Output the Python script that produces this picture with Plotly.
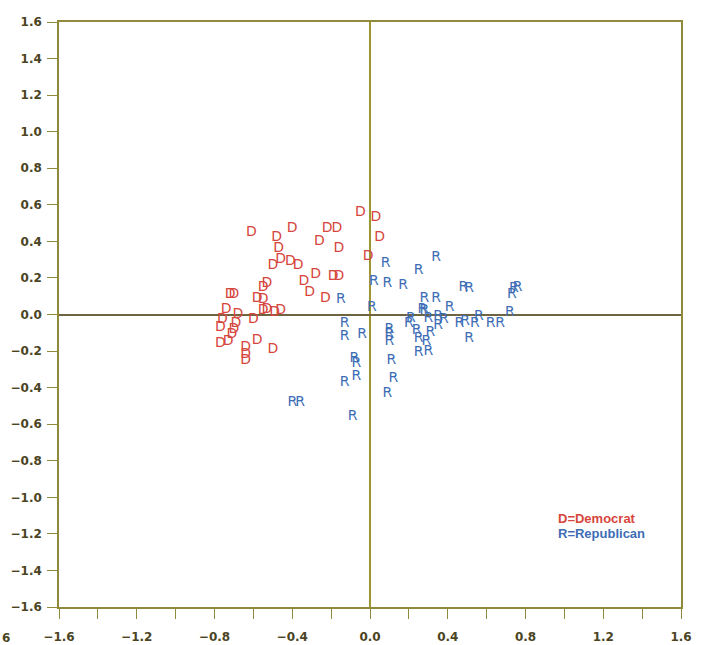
import plotly.graph_objects as go

# Dimension 1 / dimension 2 coordinates for each senator
dem_x = [-0.61, -0.40, -0.48, -0.47, -0.46, -0.50, -0.41, -0.37, -0.26, -0.22,
         -0.17, -0.16, -0.05, 0.03, 0.05, -0.01, -0.28, -0.34, -0.31, -0.19,
         -0.16, -0.53, -0.55, -0.58, -0.55, -0.23, -0.72, -0.70, -0.74, -0.55,
         -0.53, -0.49, -0.46, -0.68, -0.76, -0.77, -0.69, -0.70, -0.71, -0.73,
         -0.77, -0.60, -0.58, -0.64, -0.64, -0.64, -0.50]
dem_y = [0.45, 0.47, 0.42, 0.36, 0.30, 0.27, 0.29, 0.27, 0.40, 0.47,
         0.47, 0.36, 0.56, 0.53, 0.42, 0.32, 0.22, 0.18, 0.12, 0.21,
         0.21, 0.17, 0.15, 0.09, 0.08, 0.09, 0.11, 0.11, 0.03, 0.02,
         0.03, 0.01, 0.02, 0.00, -0.03, -0.07, -0.05, -0.08, -0.11, -0.15,
         -0.16, -0.03, -0.14, -0.18, -0.25, -0.22, -0.19]

rep_x = [-0.15, 0.08, 0.02, 0.09, 0.17, 0.34, 0.25, 0.01, 0.28, 0.34,
         0.27, 0.28, -0.13, -0.13, -0.04, 0.10, 0.10, 0.10, -0.08, -0.07,
         -0.07, -0.13, 0.11, 0.12, 0.09, -0.09, 0.21, 0.20, 0.24, 0.25,
         0.25, 0.29, 0.30, 0.30, 0.31, 0.35, 0.38, 0.35, 0.41, 0.46,
         0.49, 0.54, 0.56, 0.51, 0.62, 0.67, 0.72, 0.48, 0.51, 0.74,
         0.76, 0.73, -0.40, -0.36]
rep_y = [0.08, 0.28, 0.18, 0.17, 0.16, 0.31, 0.24, 0.04, 0.09, 0.09,
         0.03, 0.02, -0.05, -0.12, -0.11, -0.08, -0.11, -0.15, -0.24, -0.27,
         -0.34, -0.37, -0.25, -0.35, -0.43, -0.56, -0.02, -0.05, -0.09, -0.13,
         -0.21, -0.15, -0.20, -0.02, -0.10, -0.01, -0.03, -0.06, 0.04, -0.05,
         -0.04, -0.05, -0.01, -0.13, -0.05, -0.05, 0.01, 0.15, 0.14, 0.14,
         0.15, 0.11, -0.48, -0.48]

x_ticks = [round(-1.6 + 0.2 * i, 1) for i in range(17)]
y_ticks = [round(-1.6 + 0.2 * i, 1) for i in range(17)]


def fmt(v):
    s = f"{abs(v):.1f}"
    return ("\u2212" + s) if v < 0 else s


x_text = [fmt(v) if i % 2 == 0 else "" for i, v in enumerate(x_ticks)]
y_text = [fmt(v) for v in y_ticks]

RED = "#d6463c"
BLUE = "#3e6db5"
FRAME = "#8f8a3c"
LABEL = "#4b4423"
tick_font = dict(family="DejaVu Sans", size=12, color=LABEL, weight="bold")

fig = go.Figure()
fig.add_trace(go.Scatter(
    x=dem_x, y=dem_y, mode="text", text=["D"] * len(dem_x),
    textposition="middle center",
    textfont=dict(family="DejaVu Sans", size=14, color=RED),
    name="Democrat", hoverinfo="x+y+name"))
fig.add_trace(go.Scatter(
    x=rep_x, y=rep_y, mode="text", text=["R"] * len(rep_x),
    textposition="middle center",
    textfont=dict(family="DejaVu Sans", size=14, color=BLUE),
    name="Republican", hoverinfo="x+y+name"))

fig.add_annotation(x=0.955, y=-1.115, xref="x", yref="y", text="D=Democrat",
                   showarrow=False, xanchor="left", yanchor="middle",
                   font=dict(family="Liberation Sans", size=13, color=RED, weight="bold"))
fig.add_annotation(x=0.955, y=-1.20, xref="x", yref="y", text="R=Republican",
                   showarrow=False, xanchor="left", yanchor="middle",
                   font=dict(family="Liberation Sans", size=13, color=BLUE, weight="bold"))
# clipped label fragment at the far left edge
fig.add_annotation(x=-0.086, y=-0.053, xref="paper", yref="paper", text="6",
                   showarrow=False, xanchor="center", yanchor="middle",
                   font=tick_font)

fig.update_xaxes(
    range=[-1.6, 1.6], tickmode="array", tickvals=x_ticks, ticktext=x_text,
    ticks="outside", ticklen=10, tickwidth=1.3, tickcolor=FRAME,
    showline=True, linecolor=FRAME, linewidth=1.5, mirror=True,
    showgrid=False, zeroline=True, zerolinecolor="#9c9630", zerolinewidth=1.5,
    tickfont=tick_font, ticklabelstandoff=8)
fig.update_yaxes(
    range=[-1.6, 1.6], tickmode="array", tickvals=y_ticks, ticktext=y_text,
    ticks="outside", ticklen=10, tickwidth=1.3, tickcolor=FRAME,
    showline=True, linecolor=FRAME, linewidth=1.5, mirror=True,
    showgrid=False, zeroline=True, zerolinecolor="#6f6440", zerolinewidth=1.5,
    tickfont=tick_font, ticklabelstandoff=3)

fig.update_layout(
    width=703, height=645,
    margin=dict(l=59, r=22, t=22, b=38, autoexpand=False),
    paper_bgcolor="white", plot_bgcolor="white",
    showlegend=False)

fig.write_html("out.html")
